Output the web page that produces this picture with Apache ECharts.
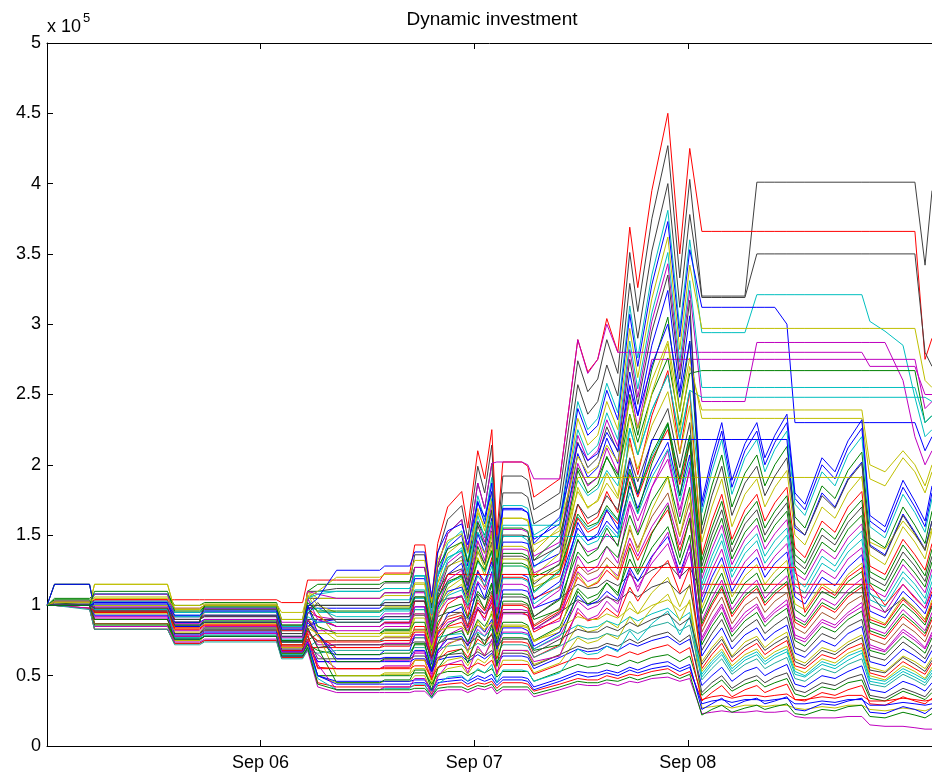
<!DOCTYPE html>
<html><head><meta charset="utf-8">
<script src="https://cdn.jsdelivr.net/npm/echarts@6/dist/echarts.min.js"></script>
<style>html,body{margin:0;padding:0;background:#fff}#c{width:932px;height:780px}</style>
</head><body><div id="c"></div><script>
const chartTitle = 'Dynamic investment';
// x positions: months since Sep 2005
const monthsSinceSep05 = [0,0.42,2.39,2.67,6.77,7.17,8.57,8.85,12.90,13.18,14.36,14.64,15.21,16.27,18.69,18.97,20.38,20.66,21.22,21.61,21.95,22.51,23.30,23.64,24.20,24.59,24.99,25.27,25.61,26.68,27.01,27.35,28.81,29.82,30.38,30.94,31.45,32.07,32.74,33.19,33.98,34.88,35.55,36.11,36.79,37.35,37.91,38.48,39.21,39.88,40.33,40.89,41.57,42.02,42.58,43.54,44.27,45.00,45.78,46.23,47.08,48.09,48.76,49.33,49.72];
const xTickMonths = [12, 24, 36];
const xTickLabels = ['Sep 06', 'Sep 07', 'Sep 08'];
const yScaleLabel = 'x 10';
const yScaleExp = '5';
// portfolio values, in units of 1e5
const path01 = [1,1.15,1.15,0.97,0.97,0.92,0.92,0.95,0.95,0.8,0.8,1.1,1.1,
1.12,1.12,1.16,1.16,1.36,1.36,1.0,1.37,1.61,1.71,1.47,1.99,1.80,2.14,1.42,1.92,1.92,1.89,1.68,1.80,2.74,2.52,2.61,2.89,2.65,3.51,3.09,3.75,4.27,3.33,4.03,
3.2,3.2,3.2,3.2,3.2,4.01,4.01,4.01,4.01,4.01,4.01,4.01,4.01,4.01,4.01,4.01,4.01,4.01,4.01,3.42,3.95];
const path02 = [1,1,1,1.04,1.04,1.04,1.04,1.04,1.04,1.02,1.02,1.18,1.18,
1.18,1.18,1.23,1.23,1.43,1.43,1.05,1.44,1.70,1.81,1.55,2.10,1.90,2.25,1.50,2.02,2.02,1.99,1.77,1.90,2.89,2.66,2.75,3.04,2.80,3.69,3.26,3.95,4.50,3.50,4.25,
3.66,3.66,3.66,3.66,3.66,3.66,3.66,3.66,3.66,3.66,3.66,3.66,3.66,3.66,3.66,3.66,3.66,3.66,3.66,2.75,2.9];
const path03 = [1,1.02,1.02,1.02,1.02,0.95,0.95,0.98,0.98,0.85,0.85,1.05,1.05,
1.05,1.05,1.09,1.09,1.27,1.27,0.93,1.28,1.51,1.61,1.38,1.87,1.69,2.01,1.33,1.80,1.80,1.77,1.58,1.69,2.57,2.36,2.45,2.71,2.49,3.29,2.90,3.52,4.00,3.12,3.78,
3.19,3.19,3.19,3.19,3.19,3.5,3.5,3.5,3.5,3.5,3.5,3.5,3.5,3.5,3.5,3.5,3.5,3.5,3.5,2.8,2.7];
const path04 = [1,1,1,1,1,0.93,0.93,0.96,0.96,0.82,0.82,1.0,1.0,
1.0,1.0,1.04,1.04,1.21,1.21,0.89,1.22,1.44,1.53,1.31,1.78,1.61,1.91,1.27,1.71,1.71,1.69,1.50,1.61,2.45,2.25,2.33,2.58,2.37,3.13,2.76,3.35,3.81,2.97,3.60,
2.94,2.94,2.94,2.94,2.94,3.21,3.21,3.21,3.21,3.21,3.21,3.21,3.21,3.21,3.21,3.02,2.95,2.85,2.48,2.48,2.45];
const path05 = [1,1,1,1,1,0.9,0.9,0.93,0.93,0.78,0.78,0.98,0.98,
0.98,0.98,1.02,1.02,1.19,1.19,0.87,1.20,1.41,1.50,1.28,1.74,1.58,1.87,1.24,1.68,1.68,1.66,1.47,1.58,2.40,2.21,2.28,2.53,2.32,3.07,2.70,3.28,3.73,2.91,3.53,
3.12,3.12,3.12,3.12,3.12,3.12,3.12,3.12,3.0,2.3,2.3,2.3,2.3,2.3,2.3,2.3,2.3,2.3,2.3,2.1,2.2];
const path06 = [1,1,1,1.15,1.15,0.97,0.97,1.0,1.0,0.8,0.8,1.1,1.0,
0.95,0.95,0.99,0.99,1.15,1.15,0.85,1.16,1.37,1.45,1.24,1.69,1.53,1.81,1.21,1.62,1.62,1.61,1.43,1.53,2.33,2.14,2.21,2.45,2.25,2.97,2.62,3.18,3.62,2.82,3.42,
2.97,2.97,2.97,2.97,2.97,2.97,2.97,2.97,2.97,2.97,2.97,2.97,2.97,2.97,2.97,2.97,2.97,2.97,2.97,2.6,2.55];
const path07 = [1,1,1,1.02,1.02,0.9,0.9,0.92,0.92,0.8,0.8,0.95,0.92,
0.90,0.90,0.94,0.94,1.09,1.09,0.80,1.10,1.30,1.38,1.18,1.60,1.45,1.72,1.14,1.54,1.54,1.52,1.35,1.45,2.21,2.03,2.10,2.32,2.13,2.82,2.48,3.02,3.43,2.67,3.24,
2.45,2.45,2.45,2.45,2.45,2.87,2.87,2.87,2.87,2.87,2.87,2.87,2.87,2.87,2.87,2.87,2.87,2.6,2.2,2.0,2.1];
const path08 = [1,1.05,1.05,1.08,1.08,1.0,1.0,1.02,1.02,0.9,0.9,1.1,1.15,
1.15,1.15,1.17,1.17,1.27,1.27,0.98,1.27,1.40,1.45,1.31,1.59,1.50,1.67,1.29,1.55,1.55,1.53,1.32,1.50,1.98,1.86,1.91,2.05,1.93,2.36,2.16,2.50,2.76,2.28,2.65,
2.67,2.67,2.67,2.67,2.67,2.67,2.67,2.67,2.67,2.67,2.67,2.67,2.67,2.67,2.67,2.67,2.67,2.67,2.67,2.3,2.35];
const path09 = [1,1.02,1.02,1.08,1.08,0.92,0.92,0.98,0.98,0.84,0.84,1.05,1.1,
1.10,1.10,1.12,1.12,1.21,1.21,0.94,1.21,1.34,1.39,1.25,1.52,1.43,1.60,1.23,1.49,1.49,1.46,1.27,1.43,1.89,1.78,1.83,1.96,1.85,2.26,2.07,2.39,2.64,2.18,2.53,
2.48,2.48,2.48,2.48,2.48,2.48,2.48,2.48,2.48,2.48,2.48,2.48,2.48,2.48,2.48,2.48,2.48,2.48,2.48,2.2,2.25];
const path10 = [1,1,1,0.95,0.95,0.88,0.88,1.0,1.0,0.75,0.75,0.9,0.85,
0.75,0.75,0.78,0.78,0.91,0.91,0.67,0.92,1.08,1.15,0.98,1.34,1.21,1.43,0.95,1.28,1.28,1.27,1.13,1.21,1.84,1.69,1.75,1.94,1.78,2.35,2.07,2.51,2.86,2.23,2.70,
2.39,2.39,2.39,2.39,2.39,2.39,2.39,2.39,2.39,2.39,2.39,2.39,2.39,2.39,2.39,2.0,1.95,2.1,2.0,1.85,2.0];
const path11 = [1,1.03,1.03,0.95,0.95,0.8,0.8,0.84,0.84,0.68,0.68,0.85,0.9,
0.85,0.85,0.88,0.88,1.03,1.03,0.76,1.04,1.22,1.30,1.11,1.51,1.37,1.62,1.08,1.45,1.45,1.44,1.28,1.37,2.08,1.91,1.98,2.19,2.01,2.66,2.35,2.85,3.24,2.52,3.06,
1.70,2.00,2.24,1.84,2.10,2.24,2.00,2.16,2.30,1.76,1.68,2.00,1.90,2.12,2.26,1.60,1.52,1.84,1.70,1.56,1.80];
const path12 = [1,1.15,1.15,0.97,0.97,0.85,0.85,0.88,0.88,0.72,0.72,1.0,0.85,
0.80,0.80,0.83,0.83,0.97,0.97,0.71,0.98,1.15,1.22,1.05,1.42,1.29,1.53,1.02,1.37,1.37,1.35,1.20,1.29,1.96,1.80,1.86,2.06,1.90,2.50,2.21,2.68,3.05,2.38,2.88,
1.57,1.85,2.07,1.70,1.94,2.07,1.85,2.00,2.13,1.63,1.55,1.85,1.76,1.96,2.09,1.48,1.41,1.70,1.57,1.44,1.67];
const path13 = [1,1,1,0.95,0.95,0.88,0.88,1.0,1.0,0.75,0.75,0.9,0.78,
0.70,0.70,0.73,0.73,0.85,0.85,0.62,0.85,1.01,1.07,0.92,1.25,1.13,1.34,0.89,1.20,1.20,1.18,1.05,1.13,1.72,1.58,1.63,1.81,1.66,2.19,1.93,2.35,2.67,2.08,2.52,
1.36,1.60,1.79,1.47,1.68,1.79,1.60,1.73,1.84,1.41,1.34,1.60,1.52,1.70,1.81,1.28,1.22,1.47,1.36,1.25,1.44];
const path14 = [1,1,1,0.98,0.98,0.78,0.78,0.8,0.8,0.66,0.66,0.72,0.65,
0.55,0.55,0.57,0.57,0.67,0.67,0.49,0.67,0.79,0.84,0.72,0.98,0.89,1.05,0.70,0.94,0.94,0.93,0.83,0.89,1.35,1.24,1.28,1.42,1.30,1.72,1.52,1.84,2.10,1.63,1.98,
1.19,1.40,1.57,1.29,1.47,1.57,1.40,1.51,1.61,1.23,1.18,1.40,1.33,1.48,1.58,1.12,1.06,1.29,1.19,1.09,1.26];
const path15 = [1,1,1,1.15,1.15,0.97,0.97,1.0,1.0,0.8,0.8,1.1,1.05,
1.05,1.05,1.07,1.07,1.16,1.16,0.89,1.16,1.28,1.32,1.20,1.45,1.37,1.52,1.18,1.42,1.42,1.40,1.21,1.37,1.81,1.70,1.74,1.87,1.76,2.15,1.97,2.28,2.52,2.08,2.42,
1.45,1.70,1.90,1.56,1.79,1.90,1.70,1.84,1.96,1.50,1.43,1.70,1.62,1.80,1.92,1.36,1.29,1.56,1.45,1.33,1.53];
const path16 = [1,1,1,1,1,0.9,0.9,0.93,0.93,0.78,0.78,0.98,1.0,
1.00,1.00,1.02,1.02,1.10,1.10,0.85,1.10,1.22,1.26,1.14,1.38,1.30,1.45,1.12,1.35,1.35,1.33,1.15,1.30,1.72,1.62,1.66,1.78,1.68,2.05,1.88,2.17,2.40,1.98,2.30,
1.28,1.50,1.68,1.38,1.58,1.68,1.50,1.62,1.73,1.32,1.26,1.50,1.43,1.59,1.70,1.20,1.14,1.38,1.28,1.17,1.35];
const path17 = [1,1.02,1.02,1.08,1.08,0.92,0.92,0.98,0.98,0.84,0.84,1.05,0.95,
0.95,0.95,0.97,0.97,1.05,1.05,0.81,1.05,1.16,1.20,1.08,1.31,1.24,1.38,1.06,1.28,1.28,1.26,1.09,1.24,1.63,1.54,1.58,1.69,1.60,1.95,1.79,2.06,2.28,1.88,2.19,
1.11,1.30,1.46,1.20,1.37,1.46,1.30,1.40,1.50,1.14,1.09,1.30,1.24,1.38,1.47,1.04,0.99,1.20,1.11,1.01,1.17];
const path18 = [1,1.03,1.03,0.95,0.95,0.8,0.8,0.84,0.84,0.68,0.68,0.85,0.88,
0.90,0.90,0.92,0.92,0.99,0.99,0.77,0.99,1.10,1.13,1.03,1.24,1.17,1.31,1.01,1.22,1.22,1.20,1.04,1.17,1.55,1.46,1.49,1.60,1.51,1.85,1.69,1.95,2.16,1.78,2.07,
1.02,1.20,1.34,1.10,1.26,1.34,1.20,1.30,1.38,1.06,1.01,1.20,1.14,1.27,1.36,0.96,0.91,1.10,1.02,0.94,1.08];
const path19 = [1,1,1,0.87,0.87,0.75,0.75,0.78,0.78,0.65,0.65,0.75,0.8,
0.80,0.80,0.82,0.82,0.88,0.88,0.68,0.88,0.98,1.01,0.91,1.10,1.04,1.16,0.90,1.08,1.08,1.06,0.92,1.04,1.38,1.30,1.33,1.42,1.34,1.64,1.50,1.74,1.92,1.58,1.84,
0.94,1.10,1.23,1.01,1.16,1.23,1.10,1.19,1.27,0.97,0.92,1.10,1.05,1.17,1.24,0.88,0.84,1.01,0.94,0.86,0.99];
const path20 = [1,1,0.98,0.83,0.83,0.73,0.73,0.75,0.75,0.63,0.63,0.7,0.7,
0.70,0.70,0.71,0.71,0.77,0.77,0.60,0.77,0.85,0.88,0.80,0.97,0.91,1.02,0.78,0.95,0.95,0.93,0.81,0.91,1.20,1.13,1.16,1.25,1.18,1.44,1.32,1.52,1.68,1.39,1.61,
0.85,1.00,1.12,0.92,1.05,1.12,1.00,1.08,1.15,0.88,0.84,1.00,0.95,1.06,1.13,0.80,0.76,0.92,0.85,0.78,0.90];
const path21 = [1,1,1,0.98,0.98,0.78,0.78,0.8,0.8,0.66,0.66,0.72,0.6,
0.60,0.60,0.61,0.61,0.66,0.66,0.51,0.66,0.73,0.76,0.68,0.83,0.78,0.87,0.67,0.81,0.81,0.80,0.69,0.78,1.03,0.97,1.00,1.07,1.01,1.23,1.13,1.30,1.44,1.19,1.38,
0.77,0.90,1.01,0.83,0.95,1.01,0.90,0.97,1.04,0.79,0.76,0.90,0.86,0.95,1.02,0.72,0.68,0.83,0.77,0.70,0.81];
const path22 = [1,1,1,0.87,0.87,0.75,0.75,0.78,0.78,0.65,0.65,0.75,0.5,
0.50,0.50,0.51,0.51,0.55,0.55,0.43,0.55,0.61,0.63,0.57,0.69,0.65,0.73,0.56,0.68,0.68,0.67,0.58,0.65,0.86,0.81,0.83,0.89,0.84,1.03,0.94,1.09,1.20,0.99,1.15,
0.60,0.70,0.78,0.64,0.74,0.78,0.70,0.76,0.81,0.62,0.59,0.70,0.67,0.74,0.79,0.56,0.53,0.64,0.60,0.55,0.63];
const path23 = [1,1,1,0.95,0.95,0.88,0.88,1.0,1.0,0.75,0.75,0.9,0.9,
0.90,0.90,0.90,0.90,0.93,0.93,0.79,0.92,0.95,0.95,0.90,0.97,0.94,0.99,0.87,0.95,0.95,0.95,0.83,0.95,1.04,1.01,1.02,1.06,1.03,1.10,1.06,1.13,1.17,1.08,1.14,
0.68,0.80,0.90,0.74,0.84,0.90,0.80,0.86,0.92,0.70,0.67,0.80,0.76,0.85,0.90,0.64,0.61,0.74,0.68,0.62,0.72];
const path24 = [1,1,0.98,0.83,0.83,0.73,0.73,0.75,0.75,0.63,0.63,0.7,0.75,
0.75,0.75,0.75,0.75,0.77,0.77,0.66,0.77,0.79,0.80,0.75,0.81,0.78,0.83,0.73,0.80,0.80,0.79,0.69,0.79,0.86,0.84,0.85,0.89,0.86,0.92,0.89,0.94,0.98,0.90,0.95,
0.51,0.60,0.67,0.55,0.63,0.67,0.60,0.65,0.69,0.53,0.50,0.60,0.57,0.64,0.68,0.48,0.46,0.55,0.51,0.47,0.54];
const path25 = [1,1,1,0.98,0.98,0.8,0.8,0.82,0.82,0.68,0.68,0.74,0.6,
0.60,0.60,0.60,0.60,0.62,0.62,0.53,0.61,0.63,0.64,0.60,0.65,0.62,0.66,0.58,0.64,0.64,0.63,0.55,0.63,0.69,0.67,0.68,0.71,0.68,0.73,0.71,0.75,0.78,0.72,0.76,
0.43,0.50,0.56,0.46,0.53,0.56,0.50,0.54,0.58,0.44,0.42,0.50,0.48,0.53,0.57,0.40,0.38,0.46,0.43,0.39,0.45];
const path26 = [1,1,1,0.87,0.87,0.77,0.77,0.8,0.8,0.67,0.67,0.72,0.5,
0.50,0.50,0.50,0.50,0.52,0.52,0.44,0.51,0.53,0.53,0.50,0.54,0.52,0.55,0.49,0.53,0.53,0.53,0.46,0.53,0.58,0.56,0.57,0.59,0.57,0.61,0.59,0.63,0.65,0.60,0.64,
0.36,0.42,0.47,0.39,0.44,0.47,0.42,0.45,0.48,0.37,0.35,0.42,0.40,0.45,0.47,0.34,0.32,0.39,0.36,0.33,0.38];
const path27 = [1,1,0.98,0.83,0.83,0.73,0.73,0.75,0.75,0.63,0.63,0.7,0.45,
0.42,0.42,0.42,0.42,0.43,0.43,0.37,0.43,0.44,0.45,0.42,0.45,0.44,0.46,0.41,0.45,0.45,0.44,0.39,0.44,0.48,0.47,0.47,0.50,0.48,0.51,0.50,0.53,0.55,0.50,0.53,
0.33,0.35,0.36,0.34,0.36,0.36,0.35,0.36,0.37,0.33,0.33,0.35,0.34,0.36,0.36,0.32,0.32,0.34,0.33,0.32,0.33];
const path28 = [1,1,0.98,0.85,0.85,0.74,0.74,0.76,0.76,0.64,0.64,0.68,0.42,
0.38,0.38,0.38,0.38,0.39,0.39,0.34,0.39,0.40,0.40,0.38,0.41,0.40,0.42,0.37,0.40,0.40,0.40,0.35,0.40,0.44,0.43,0.43,0.45,0.43,0.46,0.45,0.48,0.49,0.46,0.48,
0.23,0.24,0.25,0.24,0.24,0.25,0.24,0.24,0.25,0.21,0.20,0.20,0.20,0.21,0.21,0.15,0.14,0.14,0.13,0.12,0.12];
const path29 = [1,1,1,0.98,0.98,0.78,0.78,0.8,0.8,0.66,0.66,0.72,0.5,
0.45,0.45,0.46,0.46,0.50,0.50,0.38,0.50,0.55,0.57,0.51,0.62,0.59,0.65,0.50,0.61,0.61,0.60,0.52,0.59,0.77,0.73,0.75,0.80,0.76,0.92,0.85,0.98,1.08,0.89,1.04,
0.27,0.28,0.29,0.27,0.29,0.29,0.28,0.29,0.29,0.27,0.26,0.28,0.27,0.29,0.29,0.26,0.25,0.27,0.26,0.25,0.27];
const path30 = [1,1.03,1.03,1.03,1.03,0.98,0.98,1.0,1.0,0.88,0.88,1.1,1.08,
1.05,1.05,1.09,1.09,1.27,1.27,0.93,1.28,1.51,1.61,1.38,1.87,1.69,2.01,2.02,2.02,2.02,2.0,1.9,1.9,2.89,2.65,2.75,3.0,2.8,2.8,2.8,2.8,2.8,2.8,2.8,
2.8,2.8,2.8,2.8,2.8,2.8,2.8,2.8,2.8,2.8,2.8,2.8,2.8,2.8,2.8,2.7,2.7,2.7,2.7,2.5,2.5];
const path31 = [1,1,1,1.04,1.04,0.9,0.9,0.95,0.95,0.82,0.82,0.98,0.92,
0.85,0.85,0.88,0.88,1.03,1.03,0.76,1.04,1.22,1.22,1.22,1.22,1.22,1.22,1.22,1.22,1.22,1.22,1.22,1.22,1.62,1.52,1.56,1.67,1.58,1.93,1.77,2.04,2.25,1.86,2.16,
1.15,1.15,1.15,1.15,1.15,1.15,1.15,1.15,1.15,1.15,1.15,1.15,1.15,1.15,1.15,1.15,1.0,1.15,1.05,0.98,1.1];
const path32 = [1,1,1,1.02,1.02,0.95,0.95,0.97,0.97,0.86,0.86,1.0,1.0,
1.00,1.00,1.00,1.00,1.03,1.03,0.88,1.02,1.05,1.06,1.00,1.08,1.04,1.10,0.97,1.06,1.06,1.05,0.92,1.05,1.15,1.12,1.13,1.18,1.14,1.22,1.18,1.25,1.30,1.20,1.27,
1.09,1.09,1.09,1.09,1.09,1.09,1.09,1.09,1.09,1.09,1.09,1.09,1.09,1.09,1.09,1.09,0.95,1.05,0.98,0.9,1.0];
const path33 = [1,1,1,1.08,1.08,0.95,0.95,0.98,0.98,0.85,0.85,1.05,1.08,
1.10,1.10,1.12,1.12,1.21,1.21,0.94,1.21,1.34,1.39,1.25,1.52,1.43,1.60,1.23,1.49,1.49,1.49,1.49,1.49,1.49,1.49,1.49,1.49,1.49,2.26,2.07,2.39,2.64,2.18,2.53,
1.66,1.95,2.18,1.79,2.05,2.18,1.95,2.11,2.24,1.72,1.64,1.95,1.85,2.07,2.20,1.56,1.48,1.79,1.66,1.52,1.76];
const path34 = [1,1.15,1.15,0.97,0.97,0.85,0.85,0.88,0.88,0.72,0.72,1.0,0.8,
0.65,0.65,0.68,0.68,0.79,0.79,0.58,0.79,0.94,0.99,0.85,1.16,1.05,1.24,0.83,1.11,1.11,1.10,0.98,1.05,1.59,1.46,1.51,1.68,1.54,2.03,1.79,2.18,2.18,2.18,2.18,
2.18,2.18,2.18,2.18,2.18,2.18,2.18,2.18,2.18,1.55,1.5,1.8,1.7,1.9,2.02,1.43,1.36,1.65,1.52,1.4,1.6];
const path35 = [1,1.02,1.0,0.86,0.86,0.76,0.76,0.78,0.78,0.66,0.66,0.72,0.68,
0.65,0.65,0.66,0.66,0.72,0.72,0.55,0.72,0.79,0.82,0.74,0.90,0.85,0.94,0.73,0.88,0.88,0.86,0.75,0.85,1.12,1.05,1.08,1.16,1.09,1.33,1.22,1.41,1.56,1.29,1.50,
0.72,0.85,0.95,0.78,0.89,0.95,0.85,0.92,0.98,0.75,0.71,0.85,0.81,0.90,0.96,0.68,0.65,0.78,0.72,0.66,0.77];
const path36 = [1,1,1,0.9,0.9,0.78,0.78,0.8,0.8,0.68,0.68,0.76,0.55,
0.55,0.55,0.56,0.56,0.61,0.61,0.47,0.61,0.67,0.69,0.63,0.76,0.72,0.80,0.62,0.74,0.74,0.73,0.63,0.72,0.95,0.89,0.91,0.98,0.92,1.13,1.03,1.19,1.32,1.09,1.27,
0.55,0.65,0.73,0.60,0.68,0.73,0.65,0.70,0.75,0.57,0.55,0.65,0.62,0.69,0.73,0.52,0.49,0.60,0.55,0.51,0.59];
const path37 = [1,1,1,1.06,1.06,1.0,1.0,1.01,1.01,0.95,0.95,1.08,0.95,
0.78,0.78,0.81,0.81,0.94,0.94,0.69,0.95,1.12,1.19,1.02,1.39,1.26,1.49,0.99,1.33,1.33,1.32,1.17,1.26,1.91,1.91,1.91,1.91,1.91,1.91,1.91,1.91,1.91,1.91,1.91,
1.91,1.91,1.91,1.91,1.91,1.91,1.91,1.91,1.91,1.91,1.91,1.91,1.91,1.91,1.91,1.45,1.4,1.6,1.5,1.4,1.55];
const path38 = [1,1.02,1.02,1.08,1.08,0.92,0.92,0.98,0.98,0.84,0.84,1.05,0.9,
0.85,0.85,0.87,0.87,0.94,0.94,0.72,0.94,1.04,1.07,0.97,1.17,1.11,1.23,0.95,1.15,1.15,1.13,0.98,1.11,1.46,1.38,1.41,1.51,1.43,1.74,1.60,1.84,2.04,1.68,1.96,
1.06,1.25,1.40,1.15,1.31,1.40,1.25,1.35,1.44,1.10,1.05,1.25,1.19,1.33,1.41,1.00,0.95,1.15,1.06,0.98,1.13];
const path39 = [1,1,0.97,0.83,0.83,0.72,0.72,0.74,0.74,0.62,0.62,0.68,0.66,
0.68,0.68,0.68,0.68,0.70,0.70,0.60,0.69,0.71,0.72,0.68,0.73,0.71,0.75,0.66,0.72,0.72,0.71,0.63,0.71,0.78,0.76,0.77,0.80,0.78,0.83,0.80,0.85,0.88,0.82,0.86,
0.47,0.55,0.62,0.51,0.58,0.62,0.55,0.59,0.63,0.48,0.46,0.55,0.52,0.58,0.62,0.44,0.42,0.51,0.47,0.43,0.50];
const path40 = [1,1,1,0.87,0.87,0.8,0.8,0.82,0.82,0.7,0.7,0.8,0.75,
0.75,0.75,0.77,0.77,0.83,0.83,0.64,0.83,0.92,0.95,0.86,1.04,0.98,1.09,0.84,1.01,1.01,1.00,0.86,0.98,1.29,1.22,1.25,1.34,1.26,1.54,1.41,1.63,1.80,1.49,1.73,
0.81,0.95,1.06,0.87,1.00,1.06,0.95,1.03,1.09,0.84,0.80,0.95,0.90,1.01,1.07,0.76,0.72,0.87,0.81,0.74,0.86];
const path41 = [1,1,1,0.96,0.96,0.76,0.76,0.78,0.78,0.64,0.64,0.7,0.5,
0.46,0.46,0.46,0.46,0.47,0.47,0.40,0.47,0.48,0.49,0.46,0.50,0.48,0.51,0.45,0.49,0.49,0.48,0.42,0.48,0.53,0.52,0.52,0.54,0.52,0.56,0.54,0.58,0.60,0.55,0.58,
0.26,0.30,0.34,0.28,0.32,0.34,0.30,0.32,0.35,0.26,0.25,0.30,0.29,0.32,0.34,0.24,0.23,0.28,0.26,0.23,0.27];
const path42 = [1,1,1,0.95,0.95,0.88,0.88,1.0,1.0,0.75,0.75,0.9,0.8,
0.60,0.60,0.62,0.62,0.73,0.73,0.53,0.73,0.86,0.92,0.79,1.07,0.97,1.15,0.76,1.03,1.03,1.01,0.90,0.97,1.47,1.35,1.40,1.55,1.42,1.88,1.66,2.01,2.29,1.78,2.16,
1.23,1.45,1.62,1.33,1.52,1.62,1.45,1.57,1.67,1.28,1.22,1.45,1.38,1.54,1.64,1.16,1.10,1.33,1.23,1.13,1.31];
const path43 = [1,1,1,1.0,1.0,0.86,0.86,0.9,0.9,0.76,0.76,0.92,0.88,
0.88,0.88,0.90,0.90,0.97,0.97,0.75,0.97,1.07,1.11,1.00,1.21,1.14,1.28,0.99,1.19,1.19,1.17,1.01,1.14,1.51,1.43,1.46,1.57,1.48,1.80,1.65,1.91,2.11,1.74,2.02,
1.15,1.35,1.51,1.24,1.42,1.51,1.35,1.46,1.55,1.19,1.13,1.35,1.28,1.43,1.53,1.08,1.03,1.24,1.15,1.05,1.22];
const path44 = [1,1,1,0.92,0.92,0.82,0.82,0.85,0.85,0.7,0.7,0.82,0.72,
0.72,0.72,0.73,0.73,0.79,0.79,0.61,0.79,0.88,0.91,0.82,0.99,0.94,1.04,0.81,0.97,0.97,0.96,0.83,0.94,1.24,1.17,1.20,1.28,1.21,1.48,1.35,1.56,1.73,1.43,1.66,
0.89,1.05,1.18,0.97,1.10,1.18,1.05,1.13,1.21,0.92,0.88,1.05,1.00,1.11,1.19,0.84,0.80,0.97,0.89,0.82,0.95];
const path45 = [1,1.02,1.02,1.0,1.0,0.84,0.84,0.87,0.87,0.72,0.72,0.86,0.8,
0.50,0.50,0.52,0.52,0.61,0.61,0.45,0.61,0.72,0.77,0.66,0.89,0.81,0.96,0.64,0.86,0.86,0.85,0.75,0.81,1.23,1.13,1.17,1.29,1.19,1.57,1.38,1.68,1.91,1.49,1.80,
0.98,1.15,1.29,1.06,1.21,1.29,1.15,1.24,1.32,1.01,0.97,1.15,1.09,1.22,1.30,0.92,0.87,1.06,0.98,0.90,1.04];
const path46 = [1,1,1,0.9,0.9,0.8,0.8,0.83,0.83,0.69,0.69,0.78,0.62,
0.62,0.62,0.62,0.62,0.64,0.64,0.55,0.63,0.65,0.66,0.62,0.67,0.64,0.68,0.60,0.66,0.66,0.65,0.57,0.65,0.71,0.69,0.70,0.73,0.71,0.76,0.73,0.78,0.81,0.74,0.79,
0.38,0.45,0.50,0.41,0.47,0.50,0.45,0.49,0.52,0.40,0.38,0.45,0.43,0.48,0.51,0.36,0.34,0.41,0.38,0.35,0.41];
const path47 = [1,1,1,1.02,1.02,0.88,0.88,0.9,0.9,0.74,0.74,0.88,0.8,
0.62,0.62,0.63,0.63,0.68,0.68,0.53,0.68,0.76,0.78,0.71,0.86,0.81,0.90,0.69,0.84,0.84,0.82,0.71,0.81,1.07,1.00,1.03,1.10,1.04,1.27,1.17,1.35,1.49,1.23,1.43,
0.64,0.75,0.84,0.69,0.79,0.84,0.75,0.81,0.86,0.66,0.63,0.75,0.71,0.80,0.85,0.60,0.57,0.69,0.64,0.59,0.68];
const path48 = [1,1.04,1.04,0.96,0.96,0.86,0.86,0.89,0.89,0.74,0.74,0.84,0.7,
0.45,0.45,0.47,0.47,0.54,0.54,0.40,0.55,0.65,0.69,0.59,0.80,0.72,0.86,0.57,0.77,0.77,0.76,0.68,0.72,1.10,1.01,1.05,1.16,1.07,1.41,1.24,1.51,1.71,1.34,1.62,
0.87,1.02,1.14,0.94,1.07,1.14,1.02,1.10,1.17,0.90,0.86,1.02,0.97,1.08,1.15,0.82,0.78,0.94,0.87,0.80,0.92];
const path49 = [1,1,1,0.96,0.96,0.84,0.84,0.86,0.86,0.72,0.72,0.8,0.56,
0.55,0.55,0.55,0.55,0.57,0.57,0.48,0.56,0.58,0.58,0.55,0.59,0.57,0.61,0.53,0.58,0.58,0.58,0.51,0.58,0.63,0.62,0.62,0.65,0.63,0.67,0.65,0.69,0.72,0.66,0.70,
0.32,0.38,0.43,0.35,0.40,0.43,0.38,0.41,0.44,0.33,0.32,0.38,0.36,0.40,0.43,0.30,0.29,0.35,0.32,0.30,0.34];
const path50 = [1,1,1,1.03,1.03,0.92,0.92,0.95,0.95,0.8,0.8,0.96,0.98,
0.92,0.92,0.96,0.96,1.11,1.11,0.82,1.12,1.32,1.41,1.21,1.64,1.48,1.76,1.17,1.57,1.57,1.57,1.57,1.57,2.25,2.07,2.14,2.37,2.18,2.88,2.54,3.08,3.51,2.73,3.31,
2.55,2.55,2.55,2.55,2.55,2.55,2.55,2.55,2.55,2.55,2.55,2.55,2.55,2.55,2.55,2.55,2.55,2.55,2.55,2.3,2.35];
const path51 = [1,1,1,0.99,0.99,0.87,0.87,0.9,0.9,0.77,0.77,0.9,0.82,
0.82,0.82,0.85,0.85,0.99,0.99,0.73,1.00,1.18,1.25,1.07,1.46,1.32,1.57,1.04,1.40,1.40,1.39,1.23,1.32,2.01,1.85,1.91,2.12,1.94,2.57,2.26,2.75,2.75,2.75,2.75,
2.75,2.75,2.75,2.75,2.75,2.75,2.75,2.75,2.75,2.75,2.75,2.75,2.75,2.75,2.75,2.75,2.75,2.75,2.75,2.4,2.45];
const path52 = [1,1,1,0.94,0.94,0.81,0.81,0.84,0.84,0.7,0.7,0.84,0.8,
0.80,0.80,0.80,0.80,0.82,0.82,0.70,0.82,0.84,0.85,0.80,0.86,0.83,0.88,0.78,0.85,0.85,0.84,0.74,0.84,0.92,0.90,0.90,0.94,0.91,0.98,0.94,1.00,1.04,0.96,1.02,
0.53,0.62,0.69,0.57,0.65,0.69,0.62,0.67,0.71,0.55,0.52,0.62,0.59,0.66,0.70,0.50,0.47,0.57,0.53,0.48,0.56];
const path53 = [1,1.01,1.01,0.97,0.97,0.9,0.9,0.92,0.92,0.8,0.8,0.94,1.02,
0.88,0.88,0.92,0.92,1.06,1.06,0.78,1.07,1.27,1.35,1.15,1.57,1.42,1.68,1.12,1.50,1.50,1.49,1.32,1.42,2.16,1.98,2.05,2.27,2.09,2.75,2.43,2.95,3.35,2.61,3.17,
1.51,1.78,1.99,1.64,1.87,1.99,1.78,1.92,2.05,1.57,1.50,1.78,1.69,1.89,2.01,1.42,1.35,1.64,1.51,1.39,1.60];
const path54 = [1,1,1,0.93,0.93,0.79,0.79,0.81,0.81,0.67,0.67,0.74,0.5,
0.44,0.44,0.44,0.44,0.45,0.45,0.39,0.45,0.46,0.47,0.44,0.48,0.46,0.48,0.43,0.47,0.47,0.46,0.40,0.46,0.51,0.49,0.50,0.52,0.50,0.54,0.52,0.55,0.57,0.53,0.56,
0.30,0.32,0.33,0.31,0.33,0.33,0.32,0.33,0.34,0.30,0.30,0.32,0.31,0.33,0.33,0.29,0.29,0.31,0.30,0.29,0.30];
const path55 = [1,1,1,1.1,1.1,0.96,0.96,0.99,0.99,0.86,0.86,1.02,0.96,
0.96,0.96,0.98,0.98,1.06,1.06,0.82,1.06,1.17,1.21,1.09,1.32,1.25,1.39,1.08,1.30,1.30,1.28,1.10,1.25,1.65,1.56,1.59,1.71,1.61,1.97,1.80,2.08,2.30,1.90,2.21,
1.32,1.55,1.74,1.43,1.63,1.74,1.55,1.67,1.78,1.36,1.30,1.55,1.47,1.64,1.75,1.24,1.18,1.43,1.32,1.21,1.40];
const path56 = [1,1,1,0.95,0.95,0.83,0.83,0.86,0.86,0.71,0.71,0.82,0.74,
0.74,0.74,0.75,0.75,0.81,0.81,0.63,0.81,0.90,0.93,0.84,1.02,0.96,1.07,0.83,1.00,1.00,0.98,0.85,0.96,1.27,1.27,1.27,1.27,1.27,1.27,1.27,1.27,1.27,1.27,1.27,
1.27,1.27,1.27,1.27,1.27,1.27,1.27,1.27,1.27,1.27,0.95,1.13,1.07,1.2,1.27,0.9,0.86,1.04,0.96,0.88,1.02];
const path57 = [1,1,1,0.97,0.97,0.77,0.77,0.79,0.79,0.65,0.65,0.7,0.48,
0.40,0.40,0.41,0.41,0.44,0.44,0.34,0.44,0.49,0.50,0.46,0.55,0.52,0.58,0.45,0.54,0.54,0.53,0.46,0.52,0.69,0.65,0.66,0.71,0.67,0.82,0.75,0.87,0.96,0.79,0.92,
0.49,0.58,0.65,0.53,0.61,0.65,0.58,0.63,0.67,0.51,0.49,0.58,0.55,0.61,0.66,0.46,0.44,0.53,0.49,0.45,0.52];
const path58 = [1,1.03,1.03,1.05,1.05,0.98,0.98,1.0,1.0,0.9,0.9,1.06,1.1,
1.20,1.20,1.22,1.22,1.32,1.32,1.02,1.32,1.46,1.51,1.37,1.66,1.56,1.74,1.34,1.62,1.62,1.60,1.38,1.56,2.06,1.94,1.99,2.14,2.02,2.46,2.26,2.60,2.88,2.38,2.76,
2.33,2.33,2.33,2.33,2.33,2.33,2.33,2.33,2.33,2.33,2.33,2.33,2.33,2.33,2.33,1.9,1.85,2.05,1.95,1.8,1.95];
const path59 = [1,1,1,0.91,0.91,0.78,0.78,0.8,0.8,0.67,0.67,0.75,0.58,
0.40,0.40,0.42,0.42,0.48,0.48,0.36,0.49,0.58,0.61,0.52,0.71,0.64,0.76,0.51,0.68,0.68,0.68,0.60,0.64,0.98,0.90,0.93,1.03,0.95,1.25,1.10,1.34,1.52,1.19,1.44,
0.75,0.88,0.99,0.81,0.92,0.99,0.88,0.95,1.01,0.77,0.74,0.88,0.84,0.93,0.99,0.70,0.67,0.81,0.75,0.69,0.79];
const path60 = [1,1,1,0.98,0.98,0.86,0.86,0.88,0.88,0.74,0.74,0.84,0.7,
0.72,0.72,0.72,0.72,0.74,0.74,0.63,0.73,0.76,0.76,0.72,0.78,0.75,0.79,0.70,0.76,0.76,0.76,0.66,0.76,0.83,0.81,0.81,0.85,0.82,0.88,0.85,0.90,0.94,0.86,0.91,
0.58,0.68,0.76,0.63,0.71,0.76,0.68,0.73,0.78,0.60,0.57,0.68,0.65,0.72,0.77,0.54,0.52,0.63,0.58,0.53,0.61];
const path61 = [1,1,1,1.01,1.01,0.93,0.93,0.96,0.96,0.83,0.83,0.99,1.05,
1.25,1.25,1.28,1.28,1.38,1.38,1.06,1.38,1.53,1.58,1.43,1.73,1.63,1.81,1.40,1.69,1.69,1.66,1.44,1.63,2.15,2.03,2.08,2.23,2.10,2.56,2.35,2.71,3.00,2.48,2.88,
1.74,2.05,2.30,1.89,2.15,2.30,2.05,2.21,2.36,1.80,1.72,2.05,1.95,2.17,2.32,1.64,1.56,1.89,1.74,1.60,1.85];
const path62 = [1,1,1,0.9,0.9,0.76,0.76,0.78,0.78,0.64,0.64,0.7,0.44,
0.40,0.40,0.40,0.40,0.41,0.41,0.35,0.41,0.42,0.42,0.40,0.43,0.42,0.44,0.39,0.42,0.42,0.42,0.37,0.42,0.46,0.45,0.45,0.47,0.46,0.49,0.47,0.50,0.52,0.48,0.51,
0.22,0.26,0.29,0.24,0.27,0.29,0.26,0.28,0.30,0.23,0.22,0.26,0.25,0.28,0.29,0.21,0.20,0.24,0.22,0.20,0.23];

const allPaths = [path01,path02,path03,path04,path05,path06,path07,path08,path09,path10,
path11,path12,path13,path14,path15,path16,path17,path18,path19,path20,
path21,path22,path23,path24,path25,path26,path27,path28,path29,path30,
path31,path32,path33,path34,path35,path36,path37,path38,path39,path40,
path41,path42,path43,path44,path45,path46,path47,path48,path49,path50,
path51,path52,path53,path54,path55,path56,path57,path58,path59,path60,path61,path62];

const B='#0000ff', G='#008000', R='#ff0000', C='#00bfbf', M='#bf00bf', Y='#bfbf00', K='#404040';
const pathColors = [K,R,K,C,B,Y,M,G,C,Y, B,G,R,M,Y,K,C,B,G,R, M,Y,K,C,B,G,R,M,Y,M, R,K,C,B,G,R,Y,M,'#20a89a','#a0522d',
B,G,C,M,Y,K,B,G,R,C, M,Y,K,B,G,R,C,Y,M,K,B,G];

const font = '"Liberation Sans", Arial, Helvetica, sans-serif';
const chart = echarts.init(document.getElementById('c'), null, {renderer: 'canvas'});

const xBase = {
  type: 'value', min: 0, max: 49.72, interval: 12,
  axisLine: {show: true, onZero: false, lineStyle: {color: '#000', width: 1}},
  axisTick: {show: true, inside: true, length: 6, customValues: xTickMonths, lineStyle: {color: '#000'}},
  splitLine: {show: false}
};

chart.setOption({
  animation: false,
  backgroundColor: '#fff',
  grid: {left: 47, right: 0, top: 43, bottom: 34, containLabel: false},
  xAxis: [
    Object.assign({}, xBase, {
      position: 'bottom',
      axisLabel: {show: true, customValues: xTickMonths, margin: 8, color: '#000', fontSize: 18, fontFamily: font,
        formatter: v => { const i = xTickMonths.indexOf(v); return i >= 0 ? xTickLabels[i] : ''; }}
    }),
    Object.assign({}, xBase, {position: 'top', axisLabel: {show: false}})
  ],
  yAxis: [{
    type: 'value', min: 0, max: 5, interval: 0.5,
    axisLine: {show: true, onZero: false, lineStyle: {color: '#000', width: 1}},
    axisTick: {show: true, inside: true, length: 6, lineStyle: {color: '#000'}},
    axisLabel: {color: '#000', fontSize: 18, fontFamily: font, margin: 6},
    splitLine: {show: false}
  }],
  graphic: [
    {type: 'text', style: {text: chartTitle, x: 492, y: 20, align: 'center', verticalAlign: 'middle', fontSize: 19, fontFamily: font, fill: '#000'}},
    {type: 'text', style: {text: yScaleLabel, x: 47, y: 27, align: 'left', verticalAlign: 'middle', fontSize: 18, fontFamily: font, fill: '#000'}},
    {type: 'text', style: {text: yScaleExp, x: 83, y: 18, align: 'left', verticalAlign: 'middle', fontSize: 13, fontFamily: font, fill: '#000'}}
  ],
  series: allPaths.map((p, i) => ({
    type: 'line',
    data: monthsSinceSep05.map((m, j) => [m, p[j]]),
    showSymbol: false, symbol: 'none', silent: true,
    lineStyle: {width: 1, color: pathColors[i]},
    itemStyle: {color: pathColors[i]},
    emphasis: {disabled: true}
  }))
});
</script></body></html>
